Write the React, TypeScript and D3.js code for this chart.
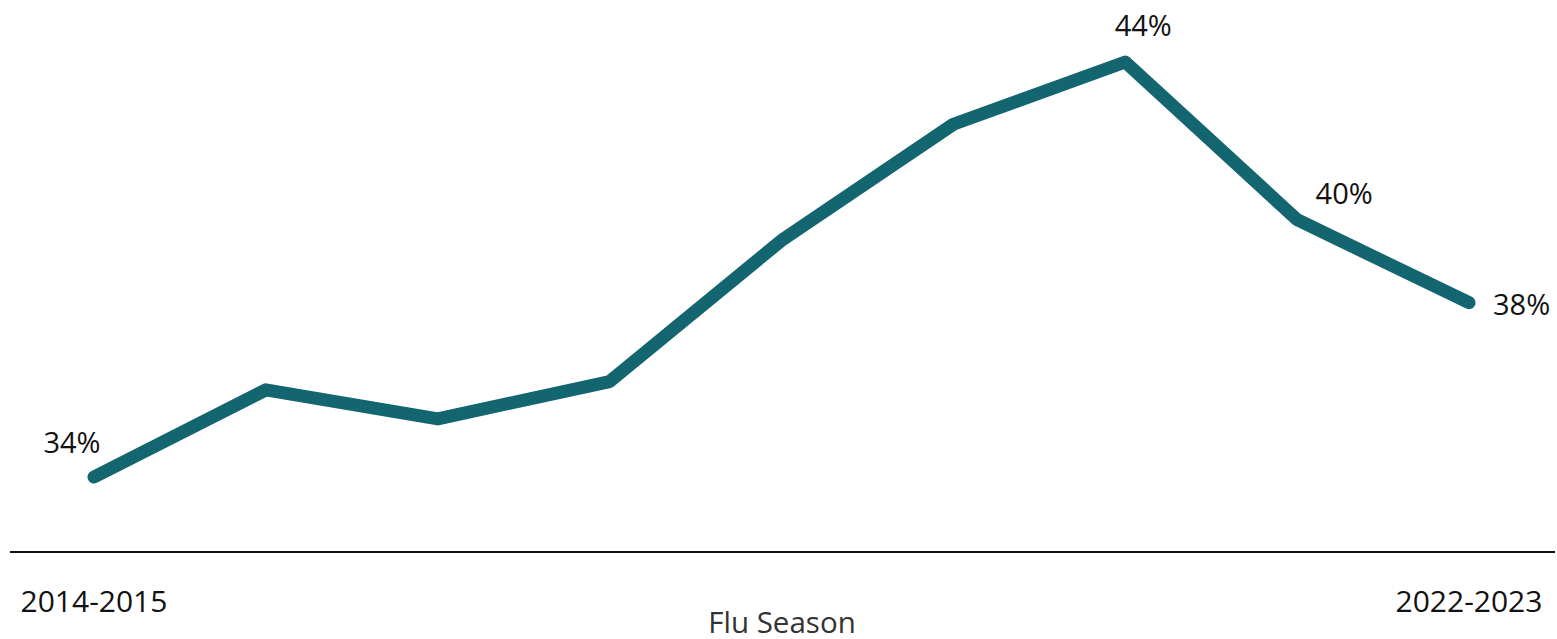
import React from "react";
import * as d3 from "d3";

const seasons = [
  "2014-2015",
  "2015-2016",
  "2016-2017",
  "2017-2018",
  "2018-2019",
  "2019-2020",
  "2020-2021",
  "2021-2022",
  "2022-2023",
];
const rates = [34.0, 36.1, 35.4, 36.3, 39.7, 42.5, 44.0, 40.2, 38.2];
const tickLabels = ["2014-2015", "2022-2023"];
const labelledSeasons = ["2014-2015", "2020-2021", "2021-2022", "2022-2023"];
// label placement relative to point: dx, dy, anchor
const labelPlacement = [
  { dx: -22, dy: -24, anchor: "middle" },
  { dx: 18, dy: -26, anchor: "middle" },
  { dx: 47, dy: -16, anchor: "middle" },
  { dx: 24, dy: 12, anchor: "start" },
];

const W = 1557;
const H = 639;
const FONT = "'Open Sans', 'Noto Sans', sans-serif";
const LINE_COLOR = "#136570";

export default function App() {
  const x = d3.scalePoint<string>().domain(seasons).range([94, 1469]);
  const y = d3.scaleLinear().domain([34, 44]).range([477, 62]);
  const line = d3
    .line<number>()
    .x((_, i) => x(seasons[i]) as number)
    .y((d) => y(d));

  return (
    <svg
      width={W}
      height={H}
      style={{ position: "absolute", left: 0, top: 0, background: "#fff" }}
      fontFamily={FONT}
    >
      <path
        d={line(rates) || ""}
        fill="none"
        stroke={LINE_COLOR}
        strokeWidth={13}
        strokeLinejoin="round"
        strokeLinecap="round"
      />
      {labelledSeasons.map((s, k) => {
        const i = seasons.indexOf(s);
        const p = labelPlacement[k];
        return (
          <text
            key={s}
            x={(x(s) as number) + p.dx}
            y={y(rates[i]) + p.dy}
            textAnchor={p.anchor}
            fontSize={29}
            fill="#111"
          >
            {`${Math.round(rates[i])}%`}
          </text>
        );
      })}
      <line x1={10} x2={1555} y1={552} y2={552} stroke="#111" strokeWidth={2} />
      {tickLabels.map((t) => (
        <text
          key={t}
          x={x(t) as number}
          y={612}
          textAnchor="middle"
          fontSize={30}
          fill="#111"
        >
          {t}
        </text>
      ))}
      <text x={782} y={633} textAnchor="middle" fontSize={29.5} fill="#333">
        Flu Season
      </text>
    </svg>
  );
}
